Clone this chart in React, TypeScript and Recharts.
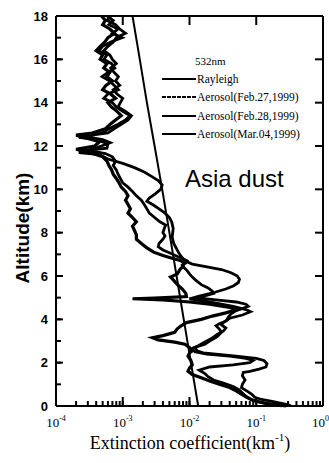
import { ScatterChart, Scatter, XAxis, YAxis } from 'recharts'

// altitude (km) / extinction (km^-1)
const rayleighAlt = [0, 2, 4, 6, 8, 10, 12, 14, 16, 18]
const rayleighExt = [0.0135, 0.0105, 0.0082, 0.0064, 0.005, 0.0039, 0.003, 0.0023, 0.0018, 0.0014]

const feb27Alt = [
  18.0, 17.8, 17.6, 17.4, 17.2, 17.0, 16.8, 16.6, 16.4, 16.2, 16.0, 15.8, 15.6, 15.4, 15.2, 15.0, 14.8, 14.6, 14.4, 14.2,
  14.0, 13.8, 13.6, 13.4, 13.2, 13.0, 12.8, 12.6, 12.4, 12.3, 12.1, 11.9, 11.8, 11.7, 11.6, 11.4, 11.2, 11.0, 10.8, 10.6,
  10.4, 10.2, 10.0, 9.8, 9.6, 9.45, 9.3, 9.1, 8.9, 8.7, 8.5, 8.2, 8.0, 7.8, 7.5, 7.3, 7.1, 6.9, 6.7, 6.55,
  6.4, 6.3, 6.15, 6.0, 5.85, 5.7, 5.55, 5.4, 5.25, 5.1, 4.95, 4.8, 4.6, 4.45, 4.35, 4.2, 4.05, 3.9, 3.8, 3.7,
  3.55, 3.4, 3.2, 3.0, 2.85, 2.7, 2.55, 2.45, 2.3, 2.2, 2.1, 1.95, 1.8, 1.7, 1.6, 1.55, 1.4, 1.2, 1.0, 0.85,
  0.7, 0.55, 0.4, 0.3, 0.2, 0.1, 0.02,
]
const feb27Ext = [
  0.00058, 0.00072, 0.00062, 0.00085, 0.0007, 0.00098, 0.00066, 0.0005, 0.00044, 0.00058, 0.00052, 0.00068, 0.00076, 0.0006, 0.00049, 0.00064, 0.00074, 0.00086, 0.0006, 0.00052,
  0.0007, 0.0008, 0.001, 0.00128, 0.0011, 0.00085, 0.00062, 0.00048, 0.00022, 0.0004, 0.0006, 0.00058, 0.00028, 0.00022, 0.00045, 0.0006, 0.001, 0.0015, 0.0021, 0.0027,
  0.0034, 0.0039, 0.0037, 0.0031, 0.0025, 0.0023, 0.0028, 0.0035, 0.0043, 0.005, 0.0054, 0.0057, 0.0056, 0.0055, 0.0058, 0.0063, 0.0068, 0.0075, 0.0085, 0.011,
  0.02, 0.03, 0.042, 0.052, 0.056, 0.054, 0.046, 0.035, 0.024, 0.015, 0.01, 0.02, 0.045, 0.07, 0.082, 0.062, 0.04, 0.034, 0.028, 0.025,
  0.028, 0.03, 0.026, 0.02, 0.017, 0.012, 0.013, 0.016, 0.05, 0.1, 0.13, 0.145, 0.14, 0.11, 0.08, 0.064, 0.062, 0.068, 0.062, 0.06,
  0.072, 0.085, 0.095, 0.12, 0.18, 0.26, 0.33,
]

const feb28Alt = [
  18.0, 17.8, 17.6, 17.4, 17.2, 17.0, 16.8, 16.6, 16.4, 16.2, 16.0, 15.8, 15.6, 15.4, 15.2, 15.0, 14.8, 14.6, 14.4, 14.2,
  14.0, 13.8, 13.6, 13.4, 13.2, 13.0, 12.8, 12.6, 12.5, 12.35, 12.2, 12.0, 11.85, 11.7, 11.5, 11.3, 11.1, 10.9, 10.7, 10.5,
  10.3, 10.1, 9.9, 9.7, 9.5, 9.3, 9.1, 8.9, 8.7, 8.5, 8.3, 8.1, 7.9, 7.7, 7.5, 7.3, 7.1, 6.95, 6.8, 6.7,
  6.6, 6.45, 6.3, 6.1, 5.95, 5.8, 5.6, 5.4, 5.2, 5.05, 4.98, 4.95, 4.9, 4.8, 4.7, 4.55, 4.45, 4.3, 4.15, 4.0,
  3.85, 3.7, 3.55, 3.4, 3.25, 3.15, 3.05, 2.95, 2.85, 2.7, 2.55, 2.45, 2.3, 2.1, 1.9, 1.75, 1.6, 1.45, 1.3, 1.15,
  1.0, 0.85, 0.7, 0.55, 0.4, 0.25, 0.1, 0.02,
]
const feb28Ext = [
  0.00048, 0.00055, 0.0005, 0.00064, 0.00075, 0.0006, 0.00054, 0.00046, 0.0004, 0.0005, 0.00046, 0.00058, 0.00052, 0.00064, 0.00058, 0.0007, 0.00056, 0.0005, 0.00066, 0.00078,
  0.0006, 0.00068, 0.00082, 0.00095, 0.00078, 0.00065, 0.00055, 0.00035, 0.0002, 0.0003, 0.00045, 0.00038, 0.0002, 0.00032, 0.0005, 0.00058, 0.00062, 0.00068, 0.00072, 0.0008,
  0.00088, 0.00095, 0.0011, 0.0012, 0.0011, 0.0012, 0.0013, 0.0012, 0.0014, 0.0016, 0.0014, 0.0015, 0.0016, 0.0016, 0.0019, 0.0023, 0.0029, 0.004, 0.0058, 0.0075,
  0.0082, 0.008, 0.0072, 0.0066, 0.0052, 0.0058, 0.0066, 0.0078, 0.0088, 0.009, 0.003, 0.0014, 0.004, 0.01, 0.02, 0.04, 0.052, 0.035, 0.022, 0.015,
  0.009, 0.0075, 0.0065, 0.006, 0.004, 0.0028, 0.0034, 0.006, 0.0085, 0.01, 0.011, 0.01, 0.0095, 0.0105, 0.011, 0.01, 0.0095, 0.011, 0.015, 0.02,
  0.028, 0.04, 0.05, 0.06, 0.072, 0.09, 0.15, 0.24,
]

const mar04Alt = [
  18.0, 17.8, 17.6, 17.4, 17.2, 17.0, 16.8, 16.6, 16.4, 16.2, 16.0, 15.8, 15.6, 15.4, 15.2, 15.0, 14.8, 14.6, 14.4, 14.2,
  14.0, 13.8, 13.6, 13.4, 13.2, 13.0, 12.8, 12.6, 12.45, 12.3, 12.15, 12.0, 11.8, 11.65, 11.5, 11.3, 11.1, 10.9, 10.7, 10.5,
  10.3, 10.1, 9.9, 9.7, 9.5, 9.3, 9.1, 8.9, 8.7, 8.5, 8.35, 8.2, 8.0, 7.85, 7.7, 7.5, 7.35, 7.2, 7.05, 6.9,
  6.8, 6.7, 6.6, 6.5, 6.4, 6.25, 6.1, 5.95, 5.8, 5.6, 5.45, 5.3, 5.2, 5.1, 5.0, 4.9, 4.8, 4.7, 4.6, 4.5,
  4.4, 4.25, 4.1, 3.95, 3.85, 3.75, 3.6, 3.45, 3.3, 3.1, 2.95, 2.8, 2.65, 2.5, 2.4, 2.3, 2.2, 2.1, 2.0, 1.9,
  1.8, 1.65, 1.5, 1.35, 1.2, 1.05, 0.9, 0.75, 0.6, 0.45, 0.3, 0.15, 0.05, 0.0,
]
const mar04Ext = [
  0.00066, 0.00058, 0.00078, 0.0009, 0.0011, 0.0008, 0.00072, 0.0006, 0.00052, 0.00064, 0.0007, 0.0008, 0.00066, 0.00074, 0.00086, 0.00078, 0.0009, 0.00072, 0.00082, 0.001,
  0.00092, 0.00085, 0.0011, 0.00135, 0.0012, 0.00095, 0.00075, 0.0006, 0.00025, 0.0005, 0.00065, 0.00048, 0.0003, 0.00055, 0.0007, 0.00078, 0.00072, 0.0008, 0.00085, 0.00092,
  0.001, 0.0012, 0.0014, 0.0016, 0.0019, 0.0021, 0.0023, 0.0025, 0.003, 0.0036, 0.0044, 0.0042, 0.004, 0.0043, 0.004, 0.0035, 0.0034, 0.004, 0.0052, 0.0066,
  0.008, 0.0092, 0.0088, 0.0078, 0.0082, 0.0092, 0.01, 0.011, 0.0125, 0.015, 0.019, 0.022, 0.023, 0.018, 0.012, 0.025, 0.05, 0.07, 0.076, 0.062,
  0.05, 0.042, 0.038, 0.036, 0.032, 0.03, 0.035, 0.032, 0.026, 0.021, 0.017, 0.014, 0.011, 0.012, 0.018, 0.04, 0.07, 0.09, 0.08, 0.045,
  0.02, 0.014, 0.017, 0.019, 0.023, 0.033, 0.045, 0.055, 0.062, 0.07, 0.085, 0.12, 0.2, 0.28,
]

const xTicks = [
  0.0001, 0.0002, 0.0003, 0.0004, 0.0005, 0.0006, 0.0007, 0.0008, 0.0009,
  0.001, 0.002, 0.003, 0.004, 0.005, 0.006, 0.007, 0.008, 0.009,
  0.01, 0.02, 0.03, 0.04, 0.05, 0.06, 0.07, 0.08, 0.09,
  0.1, 0.2, 0.3, 0.4, 0.5, 0.6, 0.7, 0.8, 0.9, 1,
]
const xMajor = [0.0001, 0.001, 0.01, 0.1, 1]
const xMajorExp = ['-4', '-3', '-2', '-1', '0']
const yTicks = [0, 1, 2, 3, 4, 5, 6, 7, 8, 9, 10, 11, 12, 13, 14, 15, 16, 17, 18]
const yLabels = [0, 2, 4, 6, 8, 10, 12, 14, 16, 18]

const legendNames = ['Rayleigh', 'Aerosol(Feb.27,1999)', 'Aerosol(Feb.28,1999)', 'Aerosol(Mar.04,1999)']

const toPoints = (alt: number[], ext: number[]) => alt.map((a, i) => ({ alt: a, ext: ext[i] }))

const INK = '#000'
const SERIF = '"Liberation Serif", "Times New Roman", serif'
const SANS = '"Liberation Sans", Arial, sans-serif'
const TICK = 5

const majorIndex = (v: number) => xMajor.findIndex((m) => Math.abs(m - v) / m < 1e-6)

// axes are mirrored so the tick lines point into the frame; labels are pushed back outside
const BottomLabel = (props: any) => {
  const x = Number(props.x)
  const y = Number(props.y) + TICK
  const mi = majorIndex(props.payload.value)
  if (mi < 0) return <g />
  const last = mi === xMajor.length - 1
  return (
    <text
      x={last ? x + 6 : x}
      y={y + 21}
      textAnchor={last ? 'end' : 'middle'}
      fontFamily={SERIF}
      fontSize={13}
      fill={INK}
    >
      10<tspan dy={-6} fontSize={8}>{xMajorExp[mi]}</tspan>
    </text>
  )
}

const LeftLabel = (props: any) => {
  const x = Number(props.x) - TICK
  const y = Number(props.y)
  if (!yLabels.includes(props.payload.value)) return <g />
  return (
    <text x={x - 8} y={y + 4.5} textAnchor="end" fontFamily={SANS} fontWeight="bold" fontSize={13} fill={INK}>
      {props.payload.value}
    </text>
  )
}

const legendRows = [79, 97, 116, 134]
const axisLine = { stroke: INK, strokeWidth: 2 }
const tickLine = { stroke: INK, strokeWidth: 2 }

// longer marks for the labelled ticks, placed on the frame through the axis scales
const bottomMarks = xMajor.map((v) => ({ ext: v, alt: 0 }))
const topMarks = xMajor.map((v) => ({ ext: v, alt: 18 }))
const leftMarks = yLabels.map((h) => ({ ext: 0.0001, alt: h }))
const rightMarks = yLabels.map((h) => ({ ext: 1, alt: h }))

const mark = (x1: number, y1: number, x2: number, y2: number) => (
  <path d={`M${x1},${y1}L${x2},${y2}`} stroke={INK} strokeWidth={2} fill="none" />
)
const BottomMark = (p: any) => mark(p.cx, p.cy, p.cx, p.cy - 9)
const TopMark = (p: any) => mark(p.cx, p.cy, p.cx, p.cy + 9)
const LeftMark = (p: any) => mark(p.cx - 4, p.cy, p.cx + 7, p.cy)
const RightMark = (p: any) => mark(p.cx, p.cy, p.cx - 8, p.cy)

export default function App() {
  return (
    <div style={{ position: 'absolute', left: 0, top: 0, width: 329, height: 463, background: '#fff' }}>
      <ScatterChart width={329} height={463} margin={{ top: 16, right: 6, bottom: 57, left: 56 }}>
        <XAxis
          xAxisId="b"
          dataKey="ext"
          type="number"
          scale="log"
          domain={[0.0001, 1]}
          allowDataOverflow
          ticks={xTicks}
          interval={0}
          height={1}
          mirror
          tickSize={TICK}
          tickMargin={0}
          tick={BottomLabel}
          tickLine={tickLine}
          axisLine={axisLine}
        />
        <XAxis
          xAxisId="t"
          orientation="top"
          dataKey="ext"
          type="number"
          scale="log"
          domain={[0.0001, 1]}
          allowDataOverflow
          ticks={xTicks}
          interval={0}
          height={1}
          mirror
          tickSize={TICK}
          tick={false}
          tickLine={tickLine}
          axisLine={axisLine}
        />
        <YAxis
          yAxisId="l"
          dataKey="alt"
          type="number"
          domain={[0, 18]}
          ticks={yTicks}
          interval={0}
          width={1}
          mirror
          tickSize={TICK}
          tickMargin={0}
          tick={LeftLabel}
          tickLine={tickLine}
          axisLine={axisLine}
        />
        <YAxis
          yAxisId="r"
          orientation="right"
          dataKey="alt"
          type="number"
          domain={[0, 18]}
          ticks={yTicks}
          interval={0}
          width={1}
          mirror
          tickSize={TICK}
          tick={false}
          tickLine={tickLine}
          axisLine={axisLine}
        />
        <Scatter xAxisId="b" yAxisId="l" data={bottomMarks} shape={BottomMark} isAnimationActive={false} />
        <Scatter xAxisId="b" yAxisId="l" data={topMarks} shape={TopMark} isAnimationActive={false} />
        <Scatter xAxisId="b" yAxisId="l" data={leftMarks} shape={LeftMark} isAnimationActive={false} />
        <Scatter xAxisId="b" yAxisId="l" data={rightMarks} shape={RightMark} isAnimationActive={false} />
        <Scatter
          name="Rayleigh"
          xAxisId="t"
          yAxisId="r"
          data={toPoints(rayleighAlt, rayleighExt)}
          line={{ stroke: INK, strokeWidth: 2 }}
          shape={() => <g />}
          isAnimationActive={false}
        />
        <Scatter
          name="Aerosol(Feb.27,1999)"
          xAxisId="b"
          yAxisId="l"
          data={toPoints(feb27Alt, feb27Ext)}
          line={{ stroke: INK, strokeWidth: 2.8 }}
          shape={() => <g />}
          isAnimationActive={false}
        />
        <Scatter
          name="Aerosol(Feb.28,1999)"
          xAxisId="b"
          yAxisId="l"
          data={toPoints(feb28Alt, feb28Ext)}
          line={{ stroke: INK, strokeWidth: 3.2 }}
          shape={() => <g />}
          isAnimationActive={false}
        />
        <Scatter
          name="Aerosol(Mar.04,1999)"
          xAxisId="b"
          yAxisId="l"
          data={toPoints(mar04Alt, mar04Ext)}
          line={{ stroke: INK, strokeWidth: 2.8 }}
          shape={() => <g />}
          isAnimationActive={false}
        />
      </ScatterChart>
      <svg width={329} height={463} style={{ position: 'absolute', left: 0, top: 0, pointerEvents: 'none' }}>
        <text x={195} y={65} fontFamily={SERIF} fontSize={11} fill={INK}>532nm</text>
        {legendNames.map((name, i) => (
          <g key={name}>
            <line x1={162} x2={196} y1={legendRows[i]} y2={legendRows[i]} stroke={INK} strokeWidth={2} strokeDasharray={i === 1 ? '4 1' : undefined} />
            <text x={197} y={legendRows[i] + 4} fontFamily={SERIF} fontSize={11.5} fill={INK}>{name}</text>
          </g>
        ))}
        <text x={185} y={187} fontFamily={SANS} fontSize={24} fill={INK}>Asia dust</text>
        <text transform="translate(29,228) rotate(-90)" textAnchor="middle" fontFamily={SANS} fontWeight="bold" fontSize={19} fill={INK}>
          Altitude(km)
        </text>
        <text x={190} y={449} textAnchor="middle" fontFamily={SERIF} fontSize={18} fill={INK}>
          Extinction coefficient(km<tspan dy={-8} fontSize={11}>-1</tspan><tspan dy={8}>)</tspan>
        </text>
      </svg>
    </div>
  )
}
